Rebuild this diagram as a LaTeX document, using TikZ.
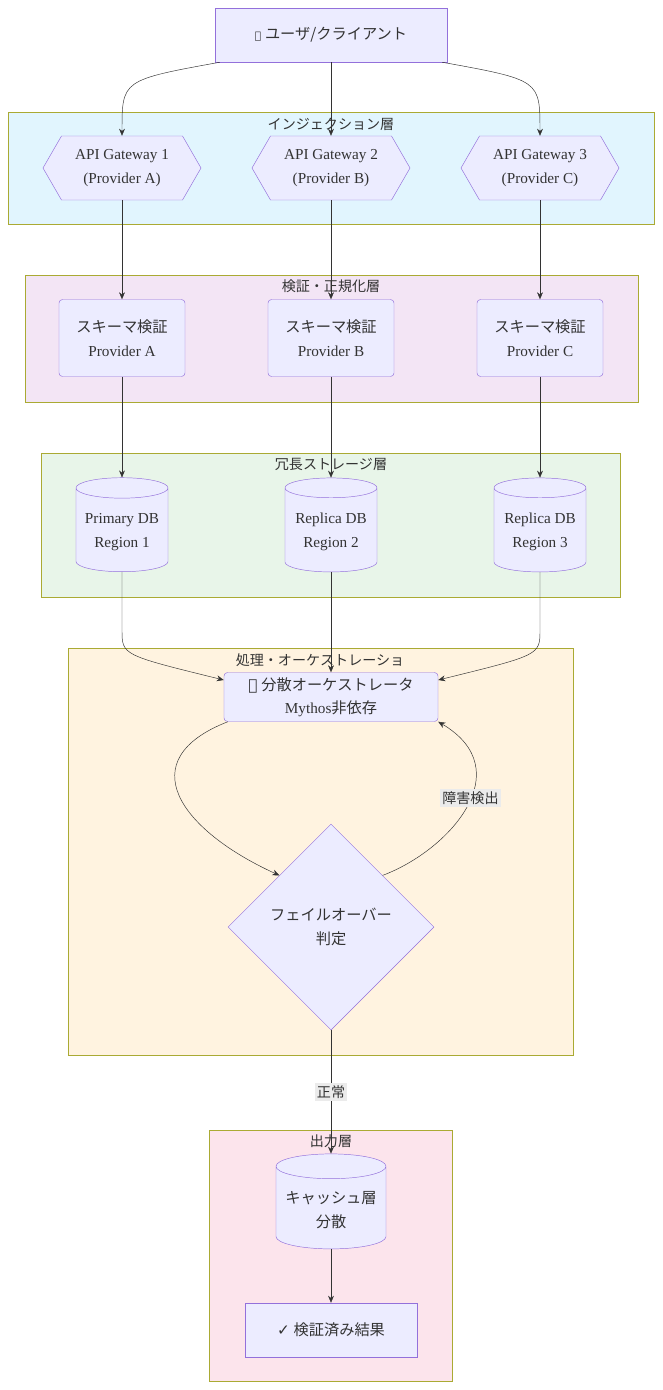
\documentclass[tikz,border=0pt]{standalone}
\usepackage{fontspec}
\setmainfont{Liberation Serif}
\newfontfamily\jpf{Noto Sans CJK JP}
\newfontfamily\symf{DejaVu Sans}
\newcommand\jp[1]{{\jpf #1}}
\usetikzlibrary{shapes.geometric,shapes.symbols,arrows.meta}
\definecolor{nodefill}{HTML}{ECECFF}
\definecolor{nodeline}{HTML}{9370DB}
\definecolor{clline}{HTML}{AAAA33}
\definecolor{edgecol}{HTML}{333333}
\definecolor{ingfill}{HTML}{E1F5FE}
\definecolor{valfill}{HTML}{F3E5F5}
\definecolor{stofill}{HTML}{E8F5E9}
\definecolor{procfill}{HTML}{FFF3E0}
\definecolor{outfill}{HTML}{FCE4EC}
\tikzset{
  box/.style={draw=nodeline,fill=nodefill,font=\fontsize{13}{20}\selectfont,align=center,text=edgecol},
  gate/.style={box,signal,signal to=east and west,signal pointer angle=120,minimum width=4.74cm,minimum height=1.92cm},
  check/.style={box,rounded corners=3pt,minimum width=3.78cm,minimum height=2.31cm},
  db/.style={box,cylinder,shape border rotate=90,aspect=0.25,minimum width=2.76cm,minimum height=2.82cm},
  cluster/.style={draw=clline,fill=#1},
  cltitle/.style={font=\jpf\fontsize{12}{14}\selectfont,text=edgecol},
  edge/.style={draw=edgecol,-{Stealth[length=6pt,width=5pt]}},
  elabel/.style={fill=black!8,font=\jpf\fontsize{12}{14}\selectfont,text=edgecol,inner sep=2pt}
}
\begin{document}
\begin{tikzpicture}[x=0.03cm,y=-0.03cm]
\useasboundingbox (0,0) rectangle (662,1390);
% clusters
\draw[cluster=ingfill] (8,112) rectangle (654,224);
\node[cltitle] (t1) at (331,124) {インジェクション層};
\draw[cluster=valfill] (25,275) rectangle (638,402);
\node[cltitle] (t2) at (331,286) {検証・正規化層};
\draw[cluster=stofill] (41,453) rectangle (620,597);
\node[cltitle] (t3) at (331,464) {冗長ストレージ層};
\draw[cluster=procfill] (68,648) rectangle (573,1055);
\node[cltitle] (t4) at (320,660) {処理・オーケストレーショ};
\draw[cluster=outfill] (209,1130) rectangle (452,1381);
\node[cltitle] (t5) at (331,1141) {出力層};
% nodes
\node[box,minimum width=6.96cm,minimum height=1.62cm] (user) at (331,35) {{\symf\small 👤} \jp{ユーザ/クライアント}};
\foreach \x/\i/\l in {122/1/A,331/2/B,540/3/C}{
  \node[gate] (gw\i) at (\x,168) {API Gateway \i\\(Provider \l)};
  \node[check] (sc\i) at (\x,338) {\jp{スキーマ検証}\\Provider \l};
}
\node[db] (db1) at (122,532) {Primary DB\\Region 1};
\node[db] (db2) at (331,532) {Replica DB\\Region 2};
\node[db] (db3) at (540,532) {Replica DB\\Region 3};
\node[box,rounded corners=3pt,minimum width=6.42cm,minimum height=1.47cm] (orch) at (331,697) {{\symf 🔄} \jp{分散オーケストレータ}\\Mythos\jp{非依存}};
\node[box,diamond,minimum width=6.18cm,minimum height=6.18cm,inner sep=0pt] (fo) at (331,927) {\jp{フェイルオーバー}\\\jp{判定}};
\node[db,minimum width=3.3cm,minimum height=2.85cm] (cache) at (331,1210) {\jp{キャッシュ層}\\\jp{分散}};
\node[box,minimum width=5.16cm,minimum height=1.62cm] (res) at (331,1330) {{\symf ✓} \jp{検証済み結果}};
% edges
\draw[edge] (user.south west) ++(5,0) coordinate (u1) .. controls (122,80) .. (gw1.north);
\draw[edge] (user) -- (gw2.north);
\draw[edge] (user.south east) ++(-5,0) coordinate (u3) .. controls (540,80) .. (gw3.north);
\foreach \i in {1,2,3}{
  \draw[edge] (gw\i.south) -- (sc\i.north);
  \draw[edge] (sc\i.south) -- (db\i.top);
}
\draw[edge] (db1.bottom) -- (122,630) .. controls (122,655) .. (orch.west |- 0,680);
\draw[edge] (db2.bottom) -- (orch.north);
\draw[edge] (db3.bottom) -- (540,630) .. controls (540,655) .. (orch.east |- 0,680);
\draw[edge] (orch.south west) ++(4,0) coordinate (o1) .. controls (130,760) and (180,830) .. (fo.north west);
\draw[edge] (fo.north east) .. controls (450,850) and (520,770) .. node[elabel,pos=0.55] (l1) {障害検出} (orch.south east);
\draw[edge] (fo.south) -- node[elabel] (l2) {正常} (cache.top);
\draw[edge] (cache.bottom) -- (res.north);
\end{tikzpicture}
\end{document}
